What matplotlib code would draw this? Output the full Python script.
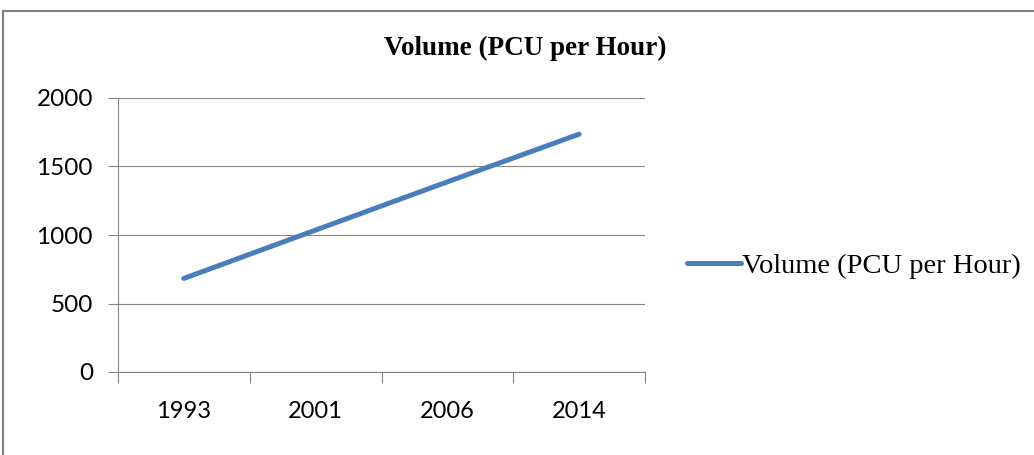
import matplotlib.pyplot as plt
from matplotlib.lines import Line2D

years = ['1993', '2001', '2006', '2014']
volume = [683, 1036, 1388, 1736]
series_name = 'Volume (PCU per Hour)'
y_ticks = [0, 500, 1000, 1500, 2000]


def make_chart():
 fig = plt.figure(figsize=(10.34, 4.55), dpi=100)
 ax = fig.add_axes([118 / 1034, 1 - 372 / 455, 527 / 1034, 274 / 455])

 x = list(range(len(years)))
 ax.plot(x, volume, color='#4a7ebb', linewidth=3.6, solid_capstyle='round', label=series_name)

 ax.set_xlim(-0.5, len(years) - 0.5)
 ax.set_ylim(0, 2000)
 ax.set_yticks(y_ticks)
 ax.set_yticklabels([str(v) for v in y_ticks], fontfamily='Lato', fontsize=17.5)
 ax.grid(axis='y', color='#868686', linewidth=0.8)
 ax.set_axisbelow(True)

 # category labels between the boundary tick marks
 ax.set_xticks([i - 0.5 for i in range(len(years) + 1)])
 ax.set_xticklabels([])
 ax.set_xticks(x, minor=True)
 ax.set_xticklabels(years, minor=True, fontfamily='Lato', fontsize=17)
 ax.tick_params(axis='x', which='minor', length=0, pad=21)
 ax.tick_params(axis='x', which='major', length=8, color='#868686', width=0.8)
 ax.tick_params(axis='y', length=7, color='#868686', width=0.8, pad=11)

 for side in ['top', 'right']:
  ax.spines[side].set_visible(False)
 ax.spines['left'].set_color('#868686')
 ax.spines['bottom'].set_color('#868686')
 ax.spines['left'].set_linewidth(0.8)
 ax.spines['bottom'].set_linewidth(0.8)

 fig.text(525 / 1034, 1 - 48 / 455, series_name, ha='center', va='center',
          fontfamily='Liberation Serif', fontweight='bold', fontsize=19.5)

 fig.legend(loc='center left', bbox_to_anchor=(661 / 1034, 1 - 266 / 455), frameon=False,
            prop={'family': 'Liberation Serif', 'size': 20.5}, handlelength=1.9, handletextpad=0.05)

 # outer chart border
 fig.add_artist(Line2D([3 / 1034, 3 / 1034], [0, 1 - 11 / 455], color='#7f7f7f', linewidth=1.5))
 fig.add_artist(Line2D([3 / 1034, 1], [1 - 11 / 455, 1 - 11 / 455], color='#7f7f7f', linewidth=1.5))

 fig.savefig('out.png', dpi=100)


if __name__ == "__main__":
 make_chart()
